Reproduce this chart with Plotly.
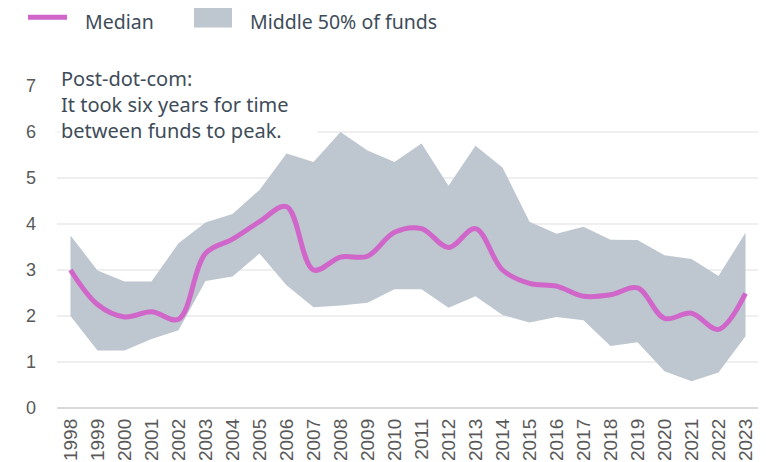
import plotly.graph_objects as go

years = list(range(1998, 2024))
median = [3.0, 2.25, 1.98, 2.09, 1.93, 3.36, 3.67, 4.05, 4.38, 3.0, 3.28, 3.30, 3.82,
          3.9, 3.49, 3.9, 3.0, 2.71, 2.65, 2.43, 2.46, 2.61, 1.95, 2.06, 1.71, 2.49]
upper = [3.75, 2.99, 2.75, 2.75, 3.58, 4.03, 4.22, 4.74, 5.53, 5.35, 6.0, 5.6, 5.35,
         5.75, 4.83, 5.70, 5.23, 4.05, 3.79, 3.94, 3.66, 3.65, 3.32, 3.24, 2.87, 3.81]
lower = [2.0, 1.25, 1.25, 1.5, 1.69, 2.76, 2.86, 3.36, 2.67, 2.19, 2.23, 2.29, 2.58,
         2.58, 2.18, 2.43, 2.02, 1.86, 1.98, 1.91, 1.35, 1.43, 0.80, 0.58, 0.77, 1.56]
y_ticks = [0, 1, 2, 3, 4, 5, 6, 7]

BAND = "#BEC6CF"
PINK = "#D066C9"
TXT = "#3E4C59"
FONT = "Noto Sans"

# page body has an 8px default margin
OFF = 8
PAGE_W, PAGE_H = 766, 462
W, H = PAGE_W - OFF, PAGE_H - OFF
# plot area in page pixels: x 57..759, y 86..400
ML, MR, MT, MB = 57, 7, 86, 62
PW, PH = PAGE_W - ML - MR, PAGE_H - MT - MB

def px_x(x):
    return (x - ML) / PW

def px_y(y):
    return (PAGE_H - MB - y) / PH

fig = go.Figure()
fig.add_trace(go.Scatter(x=years, y=lower, mode="lines", line=dict(width=0, color=BAND),
                         showlegend=False, hoverinfo="skip"))
fig.add_trace(go.Scatter(x=years, y=upper, mode="lines", line=dict(width=0, color=BAND),
                         fill="tonexty", fillcolor=BAND, name="Middle 50% of funds",
                         showlegend=False))
fig.add_trace(go.Scatter(x=years, y=median, mode="lines",
                         line=dict(color=PINK, width=5, shape="spline", smoothing=1),
                         name="Median", showlegend=False))

shapes = [
    dict(type="line", xref="paper", yref="paper", x0=px_x(28), x1=px_x(67),
         y0=px_y(19), y1=px_y(19), line=dict(color=PINK, width=5)),
    dict(type="rect", xref="paper", yref="paper", x0=px_x(194), x1=px_x(232),
         y0=px_y(29), y1=px_y(8), line=dict(width=0), fillcolor=BAND),
]
annotations = [
    dict(xref="paper", yref="paper", x=px_x(84), y=px_y(23), xanchor="left", yanchor="middle",
         text="Median", showarrow=False, borderpad=0,
         font=dict(family=FONT, size=19.5, color=TXT)),
    dict(xref="paper", yref="paper", x=px_x(249), y=px_y(23), xanchor="left", yanchor="middle",
         text="Middle 50% of funds", showarrow=False, borderpad=0,
         font=dict(family=FONT, size=19.5, color=TXT)),
    dict(xref="paper", yref="paper", x=px_x(59), y=px_y(64), xanchor="left", yanchor="top",
         text="Post-dot-com:<br>It took six years for time<br>between funds to peak.",
         align="left", showarrow=False, bgcolor="white", borderpad=1, width=255,
         font=dict(family=FONT, size=20, color=TXT)),
]

fig.update_layout(
    width=W, height=H,
    margin=dict(l=ML - OFF, r=MR, t=MT - OFF, b=MB - OFF),
    paper_bgcolor="white", plot_bgcolor="white",
    shapes=shapes, annotations=annotations,
    xaxis=dict(range=[1997.5, 2023.5], tickvals=years, ticktext=[str(y) for y in years],
               tickangle=-90, showgrid=False, showline=False, zeroline=False, automargin=False,
               tickfont=dict(family="Liberation Sans", size=19, color="#595959"), ticks="",
               ticklabelstandoff=6),
    yaxis=dict(range=[0, 7], tickvals=y_ticks, showgrid=True, gridcolor="#EFEFEF", gridwidth=1.5,
               zeroline=True, zerolinecolor="#D9D9D9", zerolinewidth=1.5, showline=False,
               automargin=False,
               tickfont=dict(family="Liberation Sans", size=18, color="#595959"), ticks="",
               ticklabelstandoff=20),
)
fig.write_html("out.html")
